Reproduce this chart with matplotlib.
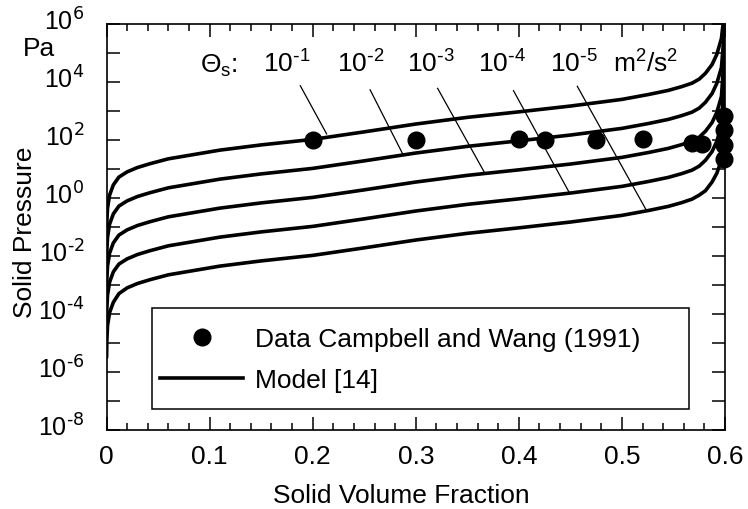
import numpy as np
import matplotlib
matplotlib.use("Agg")
import matplotlib.pyplot as plt
from matplotlib.lines import Line2D
from matplotlib.patches import Rectangle
from matplotlib.ticker import FixedLocator, MultipleLocator
from matplotlib.transforms import ScaledTranslation

plt.rcParams["font.family"] = ["Liberation Sans", "DejaVu Sans"]
plt.rcParams["mathtext.default"] = "regular"

# ------------------------------------------------------------------
# values (solid pressure in log10 Pa)
# ------------------------------------------------------------------
eps = [0.0001, 0.0003, 0.001, 0.003, 0.0066, 0.012, 0.02, 0.03, 0.042, 0.06,
       0.08, 0.11, 0.15, 0.2, 0.25, 0.3, 0.35, 0.4, 0.45, 0.5,
       0.526, 0.545, 0.558, 0.568, 0.575, 0.581, 0.5874, 0.592, 0.5965, 0.599, 0.6]

logp_theta_1e1 = [-1.3, -0.85, -0.35, 0.1, 0.45, 0.72, 0.9, 1.05, 1.18, 1.35,
                  1.47, 1.65, 1.83, 2.02, 2.28, 2.55, 2.78, 2.97, 3.17, 3.4,
                  3.57, 3.71, 3.84, 3.96, 4.1, 4.3, 4.6, 4.95, 5.5, 6.3, 7.0]
logp_theta_1e2 = [-2.3, -1.85, -1.35, -0.9, -0.55, -0.28, -0.1, 0.05, 0.18, 0.35,
                  0.47, 0.65, 0.83, 1.02, 1.28, 1.55, 1.78, 1.97, 2.17, 2.4,
                  2.57, 2.71, 2.84, 2.96, 3.1, 3.3, 3.6, 3.95, 4.5, 5.6, 7.0]
logp_theta_1e3 = [-3.3, -2.85, -2.35, -1.9, -1.55, -1.28, -1.1, -0.95, -0.82, -0.65,
                  -0.53, -0.35, -0.17, 0.02, 0.28, 0.55, 0.78, 0.97, 1.17, 1.4,
                  1.57, 1.71, 1.84, 1.96, 2.1, 2.3, 2.6, 2.95, 3.5, 4.8, 7.0]
logp_theta_1e4 = [-4.3, -3.85, -3.35, -2.9, -2.55, -2.28, -2.1, -1.95, -1.82, -1.65,
                  -1.53, -1.35, -1.17, -0.98, -0.72, -0.45, -0.22, -0.03, 0.17, 0.4,
                  0.57, 0.71, 0.84, 0.96, 1.1, 1.3, 1.6, 1.95, 2.5, 4.0, 7.0]
logp_theta_1e5 = [-5.5, -4.95, -4.4, -3.95, -3.6, -3.3, -3.1, -2.95, -2.82, -2.65,
                  -2.53, -2.35, -2.17, -1.98, -1.72, -1.45, -1.22, -1.03, -0.83, -0.6,
                  -0.43, -0.29, -0.16, -0.04, 0.1, 0.25, 0.55, 0.85, 1.3, 3.0, 7.0]

# Campbell and Wang (1991) data
data_eps = [0.2, 0.3, 0.4, 0.425, 0.475, 0.52, 0.568, 0.578, 0.599, 0.599, 0.599, 0.599]
data_logp = [2.0, 2.0, 2.05, 2.0, 2.0, 2.03, 1.91, 1.86, 2.84, 2.36, 1.81, 1.34]

# leader lines from the Theta labels down to each curve
leader_x0 = [0.188, 0.2557, 0.3212, 0.3948, 0.4567]
leader_y0 = [3.87, 3.73, 3.78, 3.70, 3.85]
leader_x1 = [0.2135, 0.2873, 0.3674, 0.4487, 0.523]
leader_y1 = [2.21, 1.52, 0.83, 0.20, -0.38]

theta_labels = ["10$^{\\text{-}1}$", "10$^{\\text{-}2}$", "10$^{\\text{-}3}$",
                "10$^{\\text{-}4}$", "10$^{\\text{-}5}$"]
ytick_exp = [-8, -7, -6, -5, -4, -3, -2, -1, 0, 1, 2, 3, 4, 5, 6]
ytick_labels = [("10$^{\\text{%d}}$" % e) if e % 2 == 0 else "" for e in ytick_exp]
xtick_vals = [0, 0.1, 0.2, 0.3, 0.4, 0.5, 0.6]
xtick_labels = ["0", "0.1", "0.2", "0.3", "0.4", "0.5", "0.6"]

# ------------------------------------------------------------------
fig = plt.figure(figsize=(7.48, 5.10), dpi=100)
ax = fig.add_axes([0.1424, 0.155, 0.8269, 0.796])

curves = [logp_theta_1e1, logp_theta_1e2, logp_theta_1e3, logp_theta_1e4, logp_theta_1e5]
for c in curves:
    ax.plot(eps, 10 ** np.array(c), color="black", lw=2.6, solid_capstyle="round")

ax.plot(data_eps, 10 ** np.array(data_logp), "o", color="black", ms=12, clip_on=False, zorder=5)

for x0, y0, x1, y1 in zip(leader_x0, leader_y0, leader_x1, leader_y1):
    ax.plot([x0, x1], [10 ** y0, 10 ** y1], color="black", lw=0.9)

ax.set_yscale("log")
ax.set_xlim(0, 0.6)
ax.set_ylim(1e-8, 1e6)

ax.yaxis.set_major_locator(FixedLocator([10.0 ** e for e in ytick_exp]))
ax.set_yticklabels(ytick_labels)
ax.yaxis.set_minor_locator(FixedLocator([]))
ax.set_xticks(xtick_vals)
ax.set_xticklabels(xtick_labels)
ax.xaxis.set_minor_locator(MultipleLocator(0.02))

ax.tick_params(which="both", direction="in", top=True, right=True, width=1.1)
ax.tick_params(axis="x", which="major", length=9.5, pad=10, labelsize=19)
ax.tick_params(axis="x", which="minor", length=4.7)
ax.tick_params(axis="y", which="major", length=9.5, pad=16, labelsize=18)
for s in ax.spines.values():
    s.set_linewidth(1.2)

# y tick labels sit a little above their ticks in the original
shift = ScaledTranslation(0, 4 / 72, fig.dpi_scale_trans)
for lab in ax.get_yticklabels():
    lab.set_transform(lab.get_transform() + shift)

ax.set_xlabel("Solid Volume Fraction", fontsize=19)
ax.xaxis.set_label_coords(0.476, -0.13)
ax.set_ylabel("Solid Pressure", fontsize=19)
ax.yaxis.set_label_coords(-0.112, 0.49)
ax.text(-0.109, 0.94, "Pa", transform=ax.transAxes, fontsize=19, ha="center", va="center")

# Theta labels
ax.text(0.151, 0.882, "Θ$_s$:", transform=ax.transAxes, fontsize=19, va="baseline")
label_x = [0.253, 0.373, 0.486, 0.600, 0.717]
for lx, t in zip(label_x, theta_labels):
    ax.text(lx, 0.882, t, transform=ax.transAxes, fontsize=19, va="baseline")
ax.text(0.819, 0.882, "m$^2$/s$^2$", transform=ax.transAxes, fontsize=19, va="baseline")

# legend box and entries
ax.add_patch(Rectangle((0.0736, 0.0517), 0.8685, 0.2488, transform=ax.transAxes,
                       fill=True, facecolor="white", edgecolor="black", lw=1.1, zorder=6))
handles = [Line2D([], [], marker="o", color="black", ls="none", ms=12),
           Line2D([], [], color="black", lw=2.6)]
leg = ax.legend(handles, ["Data Campbell and Wang (1991)", "Model [14]"],
                loc="upper left", bbox_to_anchor=(0.0865, 0.254), borderaxespad=0,
                borderpad=0, fontsize=19, frameon=False, handlelength=3.15,
                handletextpad=0.45, labelspacing=0.655)
leg.set_zorder(7)

fig.savefig("out.png", dpi=100)
